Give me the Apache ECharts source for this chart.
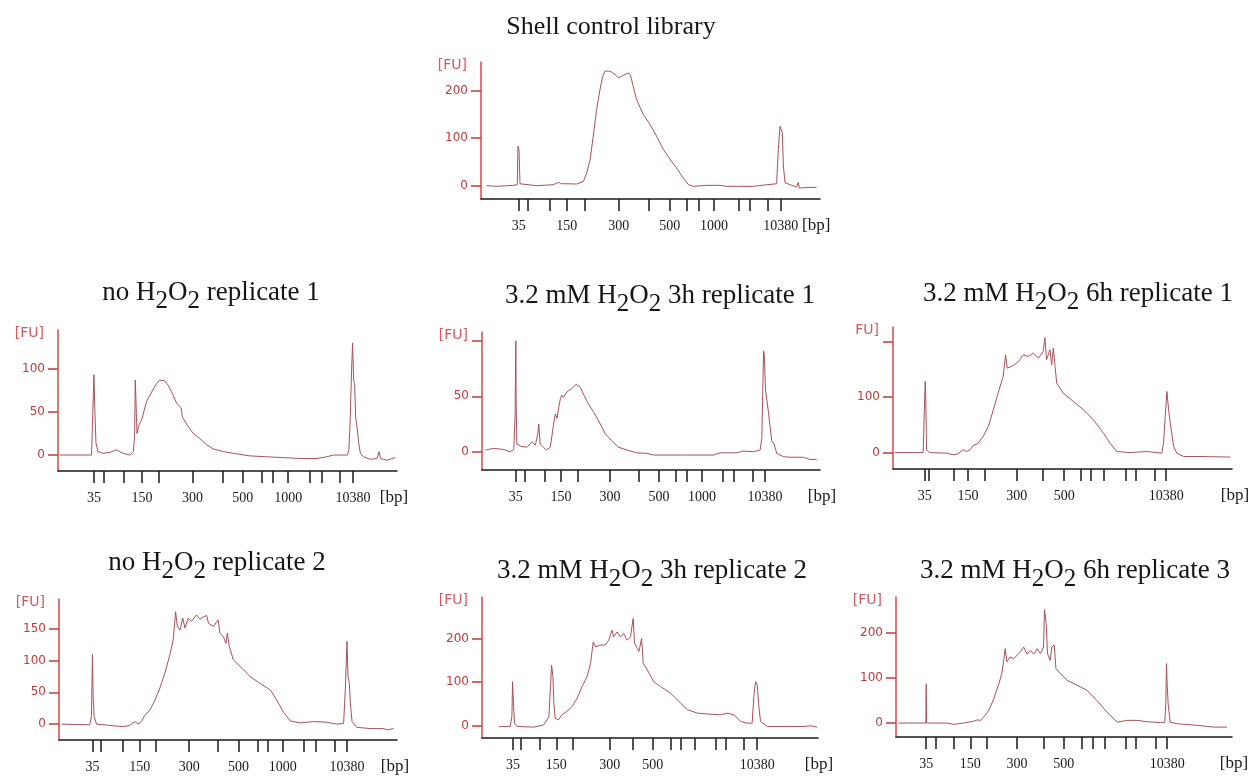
<!DOCTYPE html>
<html>
<head>
<meta charset="utf-8">
<script src="https://cdn.jsdelivr.net/npm/echarts@6/dist/echarts.min.js"></script>
</head>
<body style="margin:0;background:#fff">
<div id="container" style="width:1257px;height:778px"></div>
<script type="text/javascript">
// ladder sizes (bp) of the high sensitivity kit, one tick per band
var ladderBp = [35, 50, 100, 150, 200, 300, 400, 500, 600, 700, 1000, 2000, 3000, 7000, 10380];
var labelsWide = [0, 3, 5, 7, 10, 14];   // 35,150,300,500,1000,10380
var labelsNarrow = [0, 3, 5, 7, 14];     // 35,150,300,500,10380

var titles = [
    'Shell control library',
    'no H{s|2}O{s|2} replicate 1',
    '3.2 mM H{s|2}O{s|2} 3h replicate 1',
    '3.2 mM H{s|2}O{s|2} 6h replicate 1',
    'no H{s|2}O{s|2} replicate 2',
    '3.2 mM H{s|2}O{s|2} 3h replicate 2',
    '3.2 mM H{s|2}O{s|2} 6h replicate 3'
];

// tick positions (migration, 0-100 across the x axis) for each panel
var ticksShell = [11.1, 13.7, 20.2, 25.3, 30.5, 40.6, 49.5, 55.7, 60.7, 64.2, 68.7, 75.9, 79.2, 84.6, 88.4];
var ticksNo1 = [10.6, 13.5, 19.4, 24.8, 29.8, 39.7, 48.6, 54.5, 60.0, 63.4, 67.9, 74.4, 77.9, 83.2, 87.0];
var ticks3h1 = [9.95, 12.6, 18.5, 23.4, 28.4, 37.9, 46.4, 52.4, 57.4, 60.6, 65.1, 71.2, 74.6, 80.1, 83.7];
var ticks6h1 = [9.36, 10.5, 18.0, 22.1, 27.2, 36.5, 44.3, 50.5, 55.4, 58.4, 62.3, 68.6, 71.6, 77.1, 80.6];
var ticksNo2 = [9.9, 12.4, 18.8, 23.9, 28.6, 38.5, 47.1, 53.1, 58.7, 61.9, 66.2, 72.5, 76.0, 81.5, 85.2];
var ticks3h2 = [9.2, 11.6, 17.2, 22.1, 27.1, 38.0, 45.0, 50.8, 56.3, 59.3, 63.2, 69.5, 72.5, 77.9, 81.9];
var ticks6h3 = [9.0, 11.7, 17.1, 22.1, 27.1, 36.0, 43.9, 49.9, 55.3, 58.5, 62.1, 68.4, 71.5, 77.2, 80.7];

// fluorescence traces [position, FU]
var shell = [[1.7,0],[4.6,-1.4],[9.5,0.7],[10.7,2],[10.9,83],[11.2,76],[11.5,4],[12.0,0],[16.4,0],[21.3,2],[22.8,7],[23.8,4],[25.3,4],[28.2,3.5],[30.2,9],[31.2,27],[32.2,55],[33.1,104],[34.1,160],[35.1,202],[35.9,230],[36.6,241],[37.6,241],[38.5,239],[39.5,234],[40.5,227],[41.5,230],[42.5,234],[43.5,237],[44.1,232],[44.9,209],[45.9,181],[47.9,149],[49.9,128],[51.8,104],[53.8,76],[55.8,55],[57.7,37],[59.7,16],[61.2,2],[62.6,-1.4],[66.6,0.7],[70.5,0.7],[72.5,-1.4],[75.4,-1.4],[80.3,-1.4],[84.3,2],[87.2,4],[87.7,76],[88.2,125],[88.5,128],[88.9,111],[89.2,41],[89.7,6],[90.2,2],[93.1,-3],[93.6,7],[93.9,-5],[97.1,-3.5],[99.0,-3.5]];
var noRep1 = [[0.5,0],[9.9,0],[10.3,1],[10.6,93],[10.8,60],[11.2,14],[11.8,4],[13.3,2],[15.3,3],[17.2,6],[18.2,4],[19.2,2],[21.2,0],[22.2,4],[22.6,21],[22.8,87],[23.1,87],[23.3,25],[23.9,35],[24.6,40],[25.3,50],[26.1,62],[27.6,73],[29.1,83],[30.0,87],[31.5,86],[32.5,81],[34.0,69],[35.0,60],[36.3,55],[36.7,44],[37.9,36],[39.9,25],[41.9,19],[43.8,12],[45.8,7],[48.8,4],[51.7,2],[56.7,-1],[61.6,-2],[66.5,-3],[71.4,-4],[76.4,-4],[79.3,-2],[81.3,0],[84.2,0],[85.4,0],[85.8,6],[86.2,41],[86.6,98],[86.9,130],[87.2,87],[87.5,83],[87.8,44],[88.2,33],[88.7,14],[89.2,2],[90.1,-2],[92.1,-5],[94.1,-4],[94.7,4],[95.1,-4],[97.0,-6],[99.5,-3]];
var h3Rep1 = [[1.0,1.5],[3.4,3],[6.4,2],[8.4,0],[9.4,2],[9.8,34],[10.0,100],[10.1,46],[10.3,7],[11.3,5],[13.3,4],[14.8,9],[15.8,6],[16.5,16],[16.8,25],[17.2,7],[18.2,4],[19.0,1.5],[20.2,4],[21.2,25],[21.7,34],[22.2,30],[22.7,40],[23.2,48],[23.6,51],[24.1,49],[25.1,54],[26.6,57],[27.9,61],[29.1,58],[30.0,52],[31.5,43],[33.0,36],[35.0,25],[36.5,16],[38.4,10],[40.4,4],[42.9,1.5],[45.8,-1],[48.8,-1.5],[50.7,-3],[60.6,-3],[68.5,-3],[70.4,-1],[75.4,-1],[77.3,0.6],[80.3,0],[82.3,1.5],[82.8,13],[83.3,91],[83.5,88],[83.9,55],[84.7,37],[85.7,10],[86.4,7],[87.2,-1.5],[89.2,-4.5],[91.1,-5],[95.1,-5],[97.0,-7],[99.0,-7]];
var h6Rep1 = [[0.5,0],[8.9,0],[9.3,89],[9.5,128],[9.7,89],[9.9,5],[10.8,0],[15.8,-1],[17.7,-4],[19.2,-2],[20.7,5],[21.7,2],[22.7,5],[23.6,12],[25.1,17],[26.6,29],[28.1,47],[29.6,77],[31.0,107],[32.5,137],[33.2,176],[33.7,152],[35.0,155],[36.5,161],[37.4,167],[38.4,176],[39.9,173],[41.4,179],[42.9,170],[44.3,182],[44.8,207],[45.3,167],[46.3,185],[46.8,158],[47.3,188],[47.8,155],[48.3,125],[50.2,107],[53.2,92],[56.2,77],[59.1,59],[62.1,35],[64.0,17],[66.0,2],[70.0,0],[74.9,2],[79.3,-1],[79.8,17],[80.3,65],[80.8,110],[81.3,77],[81.8,53],[82.8,11],[83.7,-1],[85.7,-7],[89.7,-7],[99.5,-8]];
var noRep2 = [[0.7,0],[9.1,-1],[9.6,12],[9.9,110],[10.1,43],[10.4,12],[11.1,0],[15.0,-2],[19.0,-4],[20.9,-2],[22.4,4],[23.4,0],[24.4,4],[25.4,14],[26.9,22],[28.4,38],[29.8,56],[31.3,80],[32.8,109],[33.8,133],[34.5,177],[35.0,154],[35.8,148],[36.6,167],[37.3,151],[38.2,167],[39.2,162],[40.7,172],[41.7,165],[42.7,169],[43.7,171],[44.2,159],[45.7,154],[47.1,164],[47.6,143],[48.6,138],[49.4,127],[49.8,143],[50.4,122],[51.6,101],[53.6,91],[56.5,75],[59.5,64],[62.5,54],[64.4,38],[66.4,19],[68.4,5],[71.3,2],[75.3,4],[79.2,3],[82.2,0],[84.2,1],[84.7,54],[85.0,98],[85.2,130],[85.5,75],[85.9,64],[86.2,33],[86.7,4],[88.1,-5],[92.1,-7],[96.0,-7],[97.0,-9],[99.0,-7]];
var h3Rep2 = [[5.0,-1.5],[8.4,-1.5],[8.9,21],[9.1,101],[9.4,44],[9.7,6],[10.4,-1.5],[15.4,-3],[18.4,2],[19.9,21],[20.4,90],[20.7,139],[21.1,113],[21.4,52],[21.8,17],[22.8,14],[23.8,25],[25.3,33],[26.8,44],[28.3,63],[29.8,90],[31.3,113],[32.3,143],[33.1,192],[33.8,181],[35.3,185],[36.7,185],[37.7,196],[38.7,219],[39.2,204],[40.2,215],[41.2,204],[42.2,211],[43.2,196],[44.2,204],[45.0,246],[45.4,189],[46.7,170],[47.5,200],[48.0,143],[49.2,128],[51.1,101],[53.1,90],[56.1,75],[59.1,52],[61.1,37],[64.1,29],[67.0,27],[71.0,25],[73.0,29],[75.0,25],[77.0,10],[78.9,6],[80.4,6],[80.9,67],[81.4,101],[81.9,94],[82.4,44],[82.9,10],[84.9,-1.5],[90.9,-1.5],[95.8,-1.5],[97.8,0],[99.8,-3]];
var h6Rep3 = [[0.8,0],[8.2,0],[8.9,0],[9.0,87],[9.1,0],[15.2,0],[17.2,-3],[20.1,0],[23.1,4],[24.1,7],[25.1,6],[26.1,13],[27.6,28],[29.1,54],[30.6,87],[31.5,110],[32.0,136],[32.5,165],[33.0,136],[34.0,147],[35.0,143],[36.0,150],[37.0,158],[38.0,169],[39.0,153],[40.0,161],[41.0,153],[42.0,165],[43.0,154],[43.9,169],[44.2,252],[44.7,221],[45.1,154],[45.9,139],[46.4,169],[47.1,173],[47.6,121],[48.9,110],[50.9,95],[53.9,84],[56.8,73],[59.8,50],[62.8,24],[65.8,2],[68.8,6],[71.7,6],[74.7,3],[78.7,1],[80.0,1],[80.3,43],[80.5,132],[80.7,87],[81.0,43],[81.6,2],[83.6,-1.5],[89.6,-5],[94.5,-9],[98.5,-9]];

var series = [shell, noRep1, h3Rep1, h6Rep1, noRep2, h3Rep2, h6Rep3];
var ticks = [ticksShell, ticksNo1, ticks3h1, ticks6h1, ticksNo2, ticks3h2, ticks6h3];
var labelIdx = [labelsWide, labelsWide, labelsWide, labelsNarrow, labelsWide, labelsNarrow, labelsNarrow];
var yTicks = [[0, 100, 200], [0, 50, 100], [0, 50, 100], [0, 100, 200], [0, 50, 100, 150], [0, 100, 200], [0, 100, 200]];
var yLabels = [[0, 100, 200], [0, 50, 100], [0, 50], [0, 100], [0, 50, 100, 150], [0, 100, 200], [0, 100, 200]];
var fuNames = ['[FU]', '[FU]', '[FU]', 'FU]', '[FU]', '[FU]', '[FU]'];

// panel boxes and title anchors
var layout = [
    {left: 481, top: 62, width: 339, height: 137, ymin: -28, ymax: 260, bpGap: -5, tx: 611, ty: 14, fs: 26},
    {left: 58, top: 330, width: 339, height: 141, ymin: -18.5, ymax: 145, bpGap: -3, tx: 211, ty: 271, fs: 27},
    {left: 482, top: 332, width: 338, height: 138, ymin: -16.5, ymax: 108, bpGap: 2, tx: 660, ty: 274, fs: 27},
    {left: 893, top: 327, width: 339, height: 142, ymin: -29.5, ymax: 226, bpGap: 3, tx: 1078, ty: 272, fs: 27},
    {left: 59, top: 599, width: 338, height: 141, ymin: -25, ymax: 197, bpGap: -2, tx: 217, ty: 541, fs: 27},
    {left: 482, top: 597, width: 336, height: 141, ymin: -28, ymax: 295, bpGap: 1, tx: 652, ty: 549, fs: 27},
    {left: 896, top: 597, width: 336, height: 140, ymin: -31, ymax: 280, bpGap: 2, tx: 1075, ty: 549, fs: 27}
];

var grid = [], xAxis = [], yAxis = [], seriesOpt = [], title = [];

layout.forEach(function (p, i) {
    var tk = ticks[i];
    var labelPos = labelIdx[i].map(function (k) { return tk[k]; });
    var labelText = labelIdx[i].map(function (k) { return String(ladderBp[k]); });

    grid.push({left: p.left, top: p.top, width: p.width, height: p.height});

    title.push({
        text: titles[i],
        left: p.tx,
        top: p.ty,
        textAlign: 'center',
        padding: 0,
        textStyle: {
            fontFamily: 'Liberation Serif',
            fontWeight: 'normal',
            fontSize: p.fs,
            color: '#161616',
            rich: {
                s: {fontFamily: 'Liberation Serif', fontSize: p.fs - 2, color: '#161616', padding: [18, 0, 0, 0]}
            }
        }
    });

    xAxis.push({
        gridIndex: i,
        type: 'value',
        min: 0,
        max: 100,
        splitLine: {show: false},
        axisLine: {onZero: false, lineStyle: {color: '#1a1a1a', width: 1.5}},
        axisTick: {customValues: tk, length: 12, lineStyle: {color: '#1a1a1a', width: 1.5}},
        axisLabel: {
            customValues: labelPos,
            margin: 20,
            fontFamily: 'Liberation Serif',
            fontSize: 14,
            color: '#1a1a1a',
            formatter: function (v) {
                for (var k = 0; k < labelPos.length; k++) {
                    if (Math.abs(labelPos[k] - v) < 1e-6) return labelText[k];
                }
                return '';
            }
        },
        name: '[bp]',
        nameLocation: 'end',
        nameGap: p.bpGap,
        nameTextStyle: {
            fontFamily: 'Liberation Serif',
            fontSize: 17,
            color: '#1a1a1a',
            align: 'center',
            verticalAlign: 'top',
            padding: [18, 0, 0, 0]
        }
    });

    yAxis.push({
        gridIndex: i,
        type: 'value',
        min: p.ymin,
        max: p.ymax,
        splitLine: {show: false},
        axisLine: {show: true, onZero: false, lineStyle: {color: '#d9484a', width: 1.5}},
        axisTick: {show: true, customValues: yTicks[i], length: 10, lineStyle: {color: '#c23a3a', width: 1.5}},
        axisLabel: {
            customValues: yLabels[i],
            margin: 13,
            fontFamily: 'DejaVu Sans',
            fontSize: 12,
            color: '#c0393b'
        },
        name: fuNames[i],
        nameLocation: 'end',
        nameGap: -3,
        nameTextStyle: {
            fontFamily: 'DejaVu Sans',
            fontSize: 14,
            color: '#d05a5e',
            align: 'right',
            verticalAlign: 'middle',
            padding: [0, 14, 0, 0]
        }
    });

    seriesOpt.push({
        type: 'line',
        xAxisIndex: i,
        yAxisIndex: i,
        data: series[i],
        showSymbol: false,
        silent: true,
        lineStyle: {color: '#a9505c', width: 1}
    });
});

var myChart = echarts.init(document.getElementById('container'));
myChart.setOption({
    animation: false,
    backgroundColor: '#ffffff',
    title: title,
    grid: grid,
    xAxis: xAxis,
    yAxis: yAxis,
    series: seriesOpt
});
</script>
</body>
</html>
